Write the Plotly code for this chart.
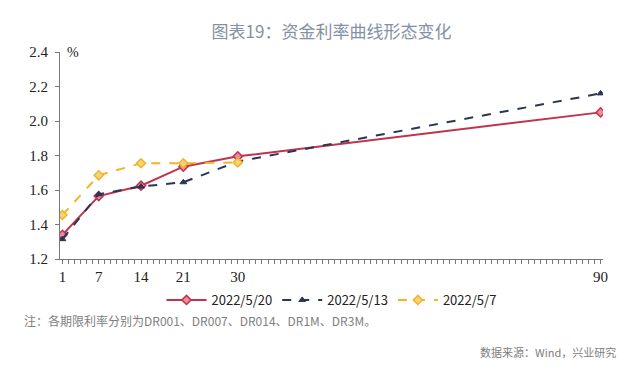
import plotly.graph_objects as go

tenors = [1, 7, 14, 21, 30, 90]
s_0520 = [1.34, 1.565, 1.625, 1.735, 1.795, 2.05]
s_0513 = [1.315, 1.575, 1.62, 1.645, 1.765, 2.16]
tenors_0507 = [1, 7, 14, 21, 30]
s_0507 = [1.455, 1.685, 1.755, 1.755, 1.76]
tick_vals = [1, 7, 14, 21, 30, 90]

RED = "#c0334d"
NAVY = "#2b3651"
YEL = "#f0b429"

fig = go.Figure()
fig.add_trace(go.Scatter(
    x=tenors, y=s_0520, name="2022/5/20", mode="lines+markers",
    line=dict(color=RED, width=2),
    marker=dict(symbol="diamond", size=7, color="#f08a9a", line=dict(color=RED, width=1.5)),
))
fig.add_trace(go.Scatter(
    x=tenors, y=s_0513, name="2022/5/13", mode="lines+markers",
    line=dict(color=NAVY, width=2, dash="dash"),
    marker=dict(symbol="triangle-up", size=6, color=NAVY, line=dict(color=NAVY, width=1)),
))
fig.add_trace(go.Scatter(
    x=tenors_0507, y=s_0507, name="2022/5/7", mode="lines+markers",
    line=dict(color=YEL, width=2, dash="dash"),
    marker=dict(symbol="diamond", size=7, color="#f7d27a", line=dict(color=YEL, width=1.5)),
))

fig.update_layout(
    width=640, height=367,
    margin=dict(l=60, r=37, t=52, b=108),
    paper_bgcolor="white", plot_bgcolor="white",
    showlegend=True,
    legend=dict(orientation="h", x=0.5, xanchor="center", y=-41/207, yanchor="middle",
                bgcolor="rgba(0,0,0,0)",
                font=dict(family="Noto Sans CJK SC, Noto Sans", size=13, color="#222222"),
                itemwidth=40, tracegroupgap=0),
    title=dict(text="图表19：资金利率曲线形态变化", x=0.5, xanchor="center", xref="paper",
               y=1 - 32/367, yanchor="middle",
               font=dict(family="Noto Sans CJK SC", size=17, color="#8391a5")),
    xaxis=dict(range=[0.6, 90.4], tickvals=tick_vals, ticktext=[str(v) for v in tick_vals],
               showgrid=False, zeroline=False, showline=True, linecolor="#777777", linewidth=1,
               ticks="outside", ticklen=4, tickcolor="#777777",
               minor=dict(dtick=1, tick0=1, ticks="outside", ticklen=4, tickcolor="#777777", showgrid=False),
               tickfont=dict(family="Liberation Serif", size=15, color="#222222")),
    yaxis=dict(range=[1.2, 2.4], dtick=0.2, tickformat=".1f",
               showgrid=False, zeroline=False, showline=True, linecolor="#777777", linewidth=1,
               ticks="outside", ticklen=4, tickcolor="#777777", ticklabelstandoff=4,
               tickfont=dict(family="Liberation Serif", size=15, color="#222222")),
)

fig.add_annotation(text="%", xref="paper", yref="paper", x=0.01, y=1.0, xanchor="left", yanchor="middle",
                   showarrow=False, font=dict(family="Liberation Serif", size=14, color="#222222"))
fig.add_annotation(text="注：各期限利率分别为DR001、DR007、DR014、DR1M、DR3M。", xref="paper", yref="paper",
                   x=-38/543, y=-61/207, xanchor="left", yanchor="middle", showarrow=False,
                   font=dict(family="Noto Sans CJK SC", size=12, color="#808080"))
fig.add_annotation(text="数据来源：Wind，兴业研究", xref="paper", yref="paper",
                   x=(618-60)/543, y=-93/207, xanchor="right", yanchor="middle", showarrow=False,
                   font=dict(family="Noto Sans CJK SC", size=11, color="#808080"))

fig.write_html("out.html", config={"displayModeBar": False},
               post_script="document.body.style.margin='0';document.body.style.padding='0';")
